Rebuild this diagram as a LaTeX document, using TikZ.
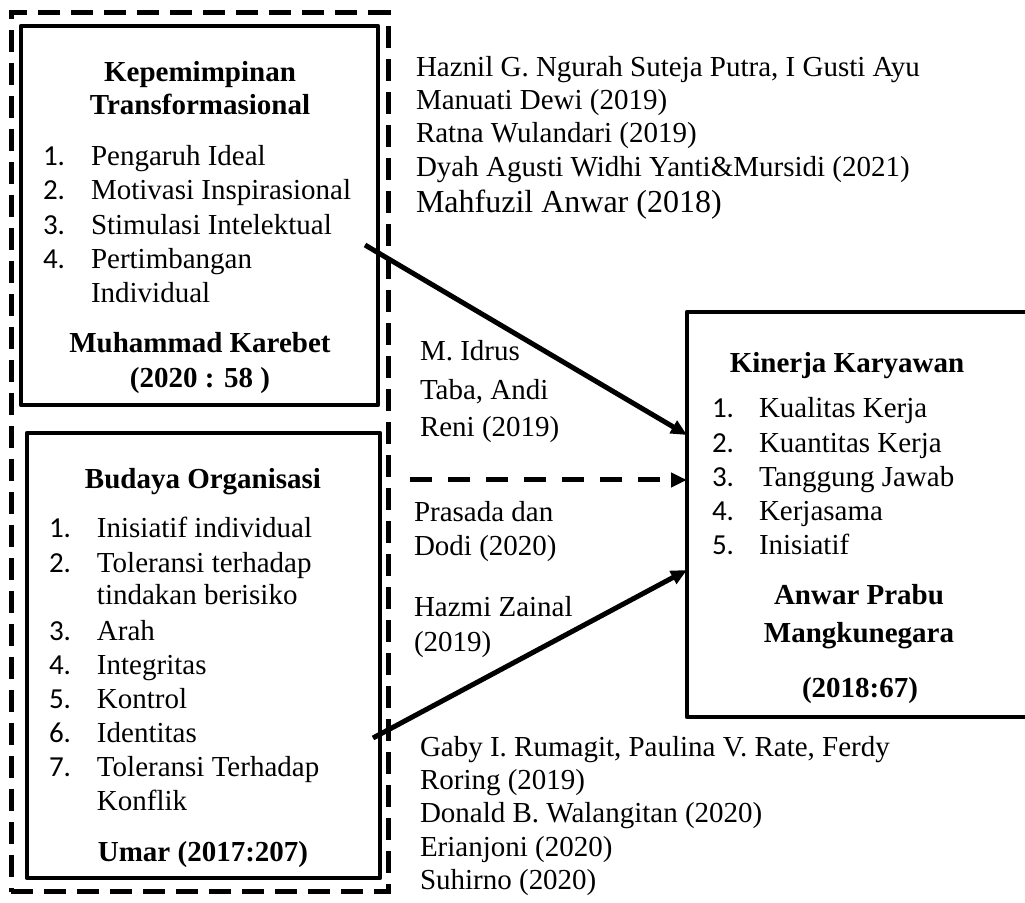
\documentclass[tikz,border=0pt]{standalone}
\usepackage{fontspec}
\setmainfont{Liberation Serif}
\newfontfamily\numfont{Carlito}
\usetikzlibrary{arrows.meta}
\begin{document}
\begin{tikzpicture}[x=0.5pt,y=-0.5pt,
  txt/.style={inner sep=0pt,outer sep=0pt,font=\fontsize{14.5}{16.65}\selectfont},
  ttl/.style={inner sep=0pt,outer sep=0pt,font=\fontsize{14.5}{16.65}\selectfont\bfseries},
  num/.style={inner sep=0pt,outer sep=0pt,font=\fontsize{14.5}{16.65}\selectfont\numfont},
  box/.style={draw,line width=2.2pt,line join=round,inner sep=0pt,outer sep=0pt,anchor=north west},
  grpbox/.style={draw,line width=2.5pt,dash pattern=on 11pt off 5.5pt,inner sep=0pt,outer sep=0pt,anchor=north west},
  conn/.style={line width=2.5pt,-{Triangle[length=8pt,width=7pt]}},
  dconn/.style={conn,dash pattern=on 11pt off 8pt}]

\useasboundingbox (0,0) rectangle (1025,903);

% boxes
\node[grpbox,minimum width=188.5pt,minimum height=439.5pt] (grp) at (11,13) {};
\node[box,minimum width=178.5pt,minimum height=189.5pt] (tf) at (21,26) {};
\node[box,minimum width=176.5pt,minimum height=222.5pt] (bo) at (27,433) {};
\node[box,minimum width=176.5pt,minimum height=202.5pt] (kin) at (687,312) {};

% top box text
\node[ttl,anchor=base] (tfh1) at (200,82) {Kepemimpinan};
\node[ttl,anchor=base] (tfh2) at (200,115) {Transformasional};
\node[num,anchor=base west] (tfn1) at (43,166) {1.};
\node[txt,anchor=base west] (tfi1) at (91,166) {Pengaruh Ideal};
\node[num,anchor=base west] (tfn2) at (43,200) {2.};
\node[txt,anchor=base west] (tfi2) at (91,200) {Motivasi Inspirasional};
\node[num,anchor=base west] (tfn3) at (43,235) {3.};
\node[txt,anchor=base west] (tfi3) at (91,235) {Stimulasi Intelektual};
\node[num,anchor=base west] (tfn4) at (43,269) {4.};
\node[txt,anchor=base west] (tfi4) at (91,269) {Pertimbangan};
\node[txt,anchor=base west] (tfi4b) at (91,303) {Individual};
\node[ttl,anchor=base] (tfa1) at (200,353) {Muhammad Karebet};
\node[ttl,anchor=base] (tfa2) at (200,388) {(2020 : 58 )};

% bottom box text
\node[ttl,anchor=base] (boh) at (203,489) {Budaya Organisasi};
\node[num,anchor=base west] (bon1) at (49,538) {1.};
\node[txt,anchor=base west] (boi1) at (97,538) {Inisiatif individual};
\node[num,anchor=base west] (bon2) at (49,573) {2.};
\node[txt,anchor=base west] (boi2) at (97,573) {Toleransi terhadap};
\node[txt,anchor=base west] (boi2b) at (97,605) {tindakan berisiko};
\node[num,anchor=base west] (bon3) at (49,641) {3.};
\node[txt,anchor=base west] (boi3) at (97,641) {Arah};
\node[num,anchor=base west] (bon4) at (49,675) {4.};
\node[txt,anchor=base west] (boi4) at (97,675) {Integritas};
\node[num,anchor=base west] (bon5) at (49,709) {5.};
\node[txt,anchor=base west] (boi5) at (97,709) {Kontrol};
\node[num,anchor=base west] (bon6) at (49,743) {6.};
\node[txt,anchor=base west] (boi6) at (97,743) {Identitas};
\node[num,anchor=base west] (bon7) at (49,777) {7.};
\node[txt,anchor=base west] (boi7) at (97,777) {Toleransi Terhadap};
\node[txt,anchor=base west] (boi7b) at (97,811) {Konflik};
\node[ttl,anchor=base] (boa) at (203,862) {Umar (2017:207)};

% right box text
\node[ttl,anchor=base] (kinh) at (847,373) {Kinerja Karyawan};
\node[num,anchor=base west] (kinn1) at (712,418) {1.};
\node[txt,anchor=base west] (kini1) at (759,418) {Kualitas Kerja};
\node[num,anchor=base west] (kinn2) at (712,453) {2.};
\node[txt,anchor=base west] (kini2) at (759,453) {Kuantitas Kerja};
\node[num,anchor=base west] (kinn3) at (712,487) {3.};
\node[txt,anchor=base west] (kini3) at (759,487) {Tanggung Jawab};
\node[num,anchor=base west] (kinn4) at (712,521) {4.};
\node[txt,anchor=base west] (kini4) at (759,521) {Kerjasama};
\node[num,anchor=base west] (kinn5) at (712,555) {5.};
\node[txt,anchor=base west] (kini5) at (759,555) {Inisiatif};
\node[ttl,anchor=base] (kina1) at (859,605) {Anwar Prabu};
\node[ttl,anchor=base] (kina2) at (859,643) {Mangkunegara};
\node[ttl,anchor=base] (kina3) at (860,698) {(2018:67)};

% references top
\node[txt,anchor=base west] (rt1) at (416,77) {Haznil G. Ngurah Suteja Putra, I Gusti Ayu};
\node[txt,anchor=base west] (rt2) at (416,110) {Manuati Dewi (2019)};
\node[txt,anchor=base west] (rt3) at (416,143) {Ratna Wulandari (2019)};
\node[txt,anchor=base west] (rt4) at (416,177) {Dyah Agusti Widhi Yanti\&Mursidi (2021)};
\node[txt,anchor=base west,font=\fontsize{16}{18}\selectfont] (rt5) at (416,213) {Mahfuzil Anwar (2018)};

% middle labels
\node[txt,anchor=base west] (m1) at (420,361) {M. Idrus};
\node[txt,anchor=base west] (m2) at (420,400) {Taba, Andi};
\node[txt,anchor=base west] (m3) at (420,437) {Reni (2019)};
\node[txt,anchor=base west] (p1) at (414,522) {Prasada dan};
\node[txt,anchor=base west] (p2) at (414,556) {Dodi (2020)};
\node[txt,anchor=base west] (h1) at (414,617) {Hazmi Zainal};
\node[txt,anchor=base west] (h2) at (414,652) {(2019)};

% references bottom
\node[txt,anchor=base west] (rb1) at (420,757) {Gaby I. Rumagit, Paulina V. Rate, Ferdy};
\node[txt,anchor=base west] (rb2) at (420,790) {Roring (2019)};
\node[txt,anchor=base west] (rb3) at (420,823) {Donald B. Walangitan (2020)};
\node[txt,anchor=base west] (rb4) at (420,857) {Erianjoni (2020)};
\node[txt,anchor=base west] (rb5) at (420,890) {Suhirno (2020)};

% connectors
\coordinate (s1) at (365,245);
\coordinate (s2) at (410,480);
\coordinate (s3) at (373,738);
\draw[conn] (s1) -- (kin.west |- 0,435);
\draw[dconn] (s2) -- (kin.west |- 0,480);
\draw[conn] (s3) -- (kin.west |- 0,570);
\end{tikzpicture}
\end{document}
